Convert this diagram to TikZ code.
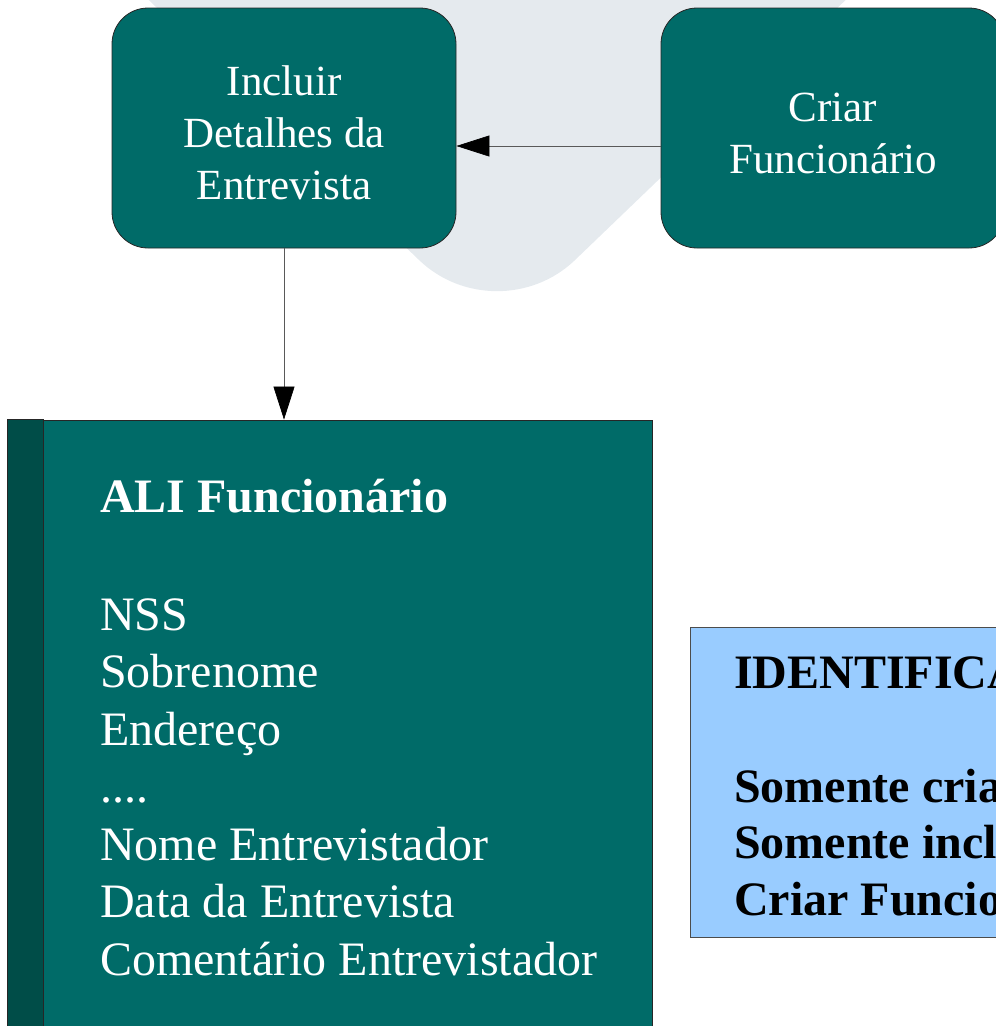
\documentclass[tikz,border=0pt]{standalone}
\usepackage{fontspec}
\setmainfont{Liberation Serif}
\usetikzlibrary{arrows.meta}

\definecolor{tealbox}{RGB}{0,107,104}
\definecolor{tealdark}{RGB}{0,77,72}
\definecolor{skybox}{RGB}{153,204,255}
\definecolor{markgray}{RGB}{229,234,238}

\begin{document}
\begin{tikzpicture}[x=1pt, y=-1pt]
\useasboundingbox (0,0) rectangle (996,1026);

\fill[markgray, rounded corners=108pt] (-475,-600) -- (497,335) -- (1470,-600) -- cycle;


\tikzset{ProcStyle/.style = {
 draw = black!85,
 line width = 0.8pt,
 fill = tealbox,
 rounded corners = 36pt,
 minimum width = 344pt,
 minimum height = 240pt,
 text = white,
 align = center,
 inner sep = 0pt,
 font = \fontsize{43}{52}\selectfont} }

\node[ProcStyle] (incluir) at (284,128) {\rule{0pt}{40pt}Incluir\\Detalhes da\\Entrevista};
\node[ProcStyle] (criar) at (833,128) {\rule{0pt}{40pt}Criar\\Funcionário};


\tikzset{TableStyle/.style = {draw = black!85, line width = 0.8pt, fill = tealbox} }

\node[TableStyle, minimum width=644pt, minimum height=640pt] (ali) at (330,740) {};
\draw[TableStyle, fill=tealdark] (ali.north west) rectangle ([xshift=36pt]ali.south west);

\node[TableStyle, draw=black!70, fill=skybox, minimum width=420pt, minimum height=310pt] (ident) at (900,782) {};


\tikzset{FlowStyle/.style = {draw = black!65, line width = 0.7pt, -{Triangle[length=33pt, width=21pt, black]}} }

\draw[FlowStyle] ([yshift=-18pt]criar.west) -- ([yshift=-18pt]incluir.east);
\draw[FlowStyle] (incluir.south) -- (incluir.south |- ali.north);


\tikzset{FieldStyle/.style = {
 anchor = base west,
 inner sep = 0pt,
 text = white,
 font = \fontsize{48}{57.5}\selectfont} }
\tikzset{HeadStyle/.style = {FieldStyle, font = \bfseries\fontsize{48}{57.5}\selectfont} }
\tikzset{NoteStyle/.style = {FieldStyle, text = black, font = \bfseries\fontsize{48}{57.5}\selectfont} }

\node[HeadStyle] (alihead) at (100,512) {ALI Funcionário};
\node[FieldStyle] (campo1) at (100,630) {NSS};
\node[FieldStyle] (campo2) at (100,687.5) {Sobrenome};
\node[FieldStyle] (campo3) at (100,745) {Endereço};
\node[FieldStyle] (campo4) at (100,802.5) {....};
\node[FieldStyle] (campo5) at (100,860) {Nome Entrevistador};
\node[FieldStyle] (campo6) at (100,917.5) {Data da Entrevista};
\node[FieldStyle] (campo7) at (100,975) {Comentário Entrevistador};

\node[NoteStyle] (nota1) at (734,688) {IDENTIFICAÇÃO};
\node[NoteStyle] (nota2) at (734,802) {Somente criar};
\node[NoteStyle] (nota3) at (734,858) {Somente incluir};
\node[NoteStyle] (nota4) at (734,915) {Criar Funcionário};

\end{tikzpicture}
\end{document}
